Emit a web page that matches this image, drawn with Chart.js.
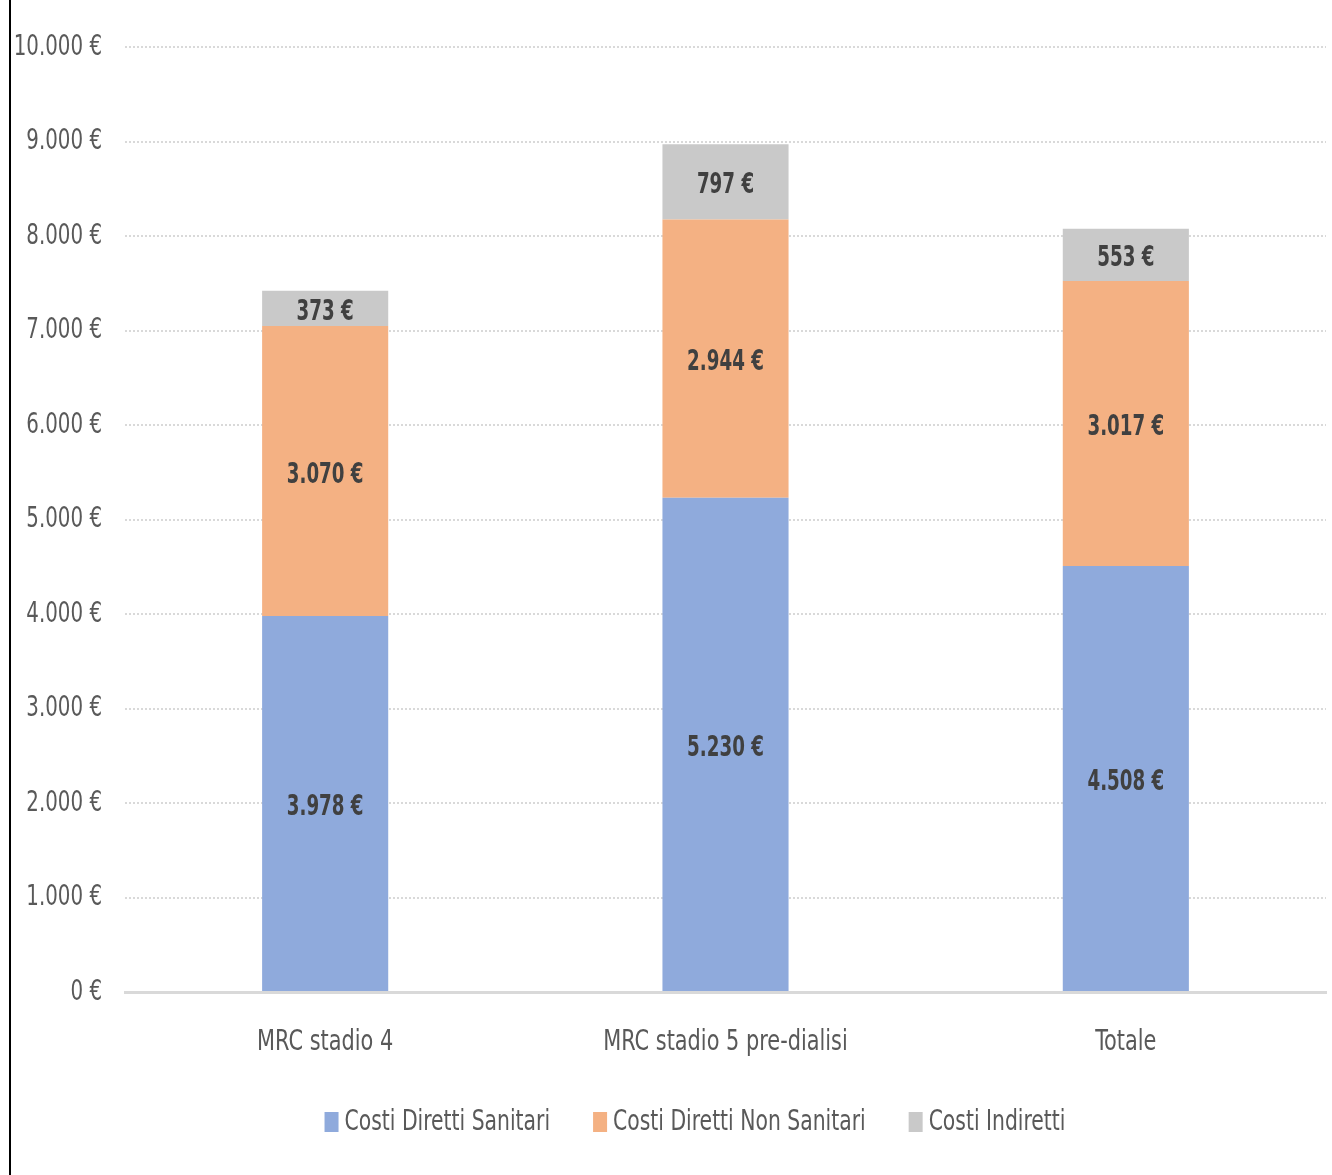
<!DOCTYPE html>
<html>
<head>
<meta charset="utf-8">
<script src="https://cdn.jsdelivr.net/npm/chart.js@4/dist/chart.umd.min.js"></script>
<style>
  html, body { margin: 0; padding: 0; background: #fff; }
  #wrap { position: relative; width: 1332px; height: 1175px; }
  #edge { position: absolute; left: 9px; top: 0; width: 2px; height: 1175px; background: #000; }
</style>
</head>
<body>
<div id="wrap">
  <canvas id="costChart" width="1332" height="1175"></canvas>
  <div id="edge"></div>
</div>
<script>
// categories and series
const categories = ['MRC stadio 4', 'MRC stadio 5 pre-dialisi', 'Totale'];
const sanitari = [3978, 5230, 4508];
const nonSanitari = [3070, 2944, 3017];
const indiretti = [373, 797, 553];
const yTicks = [0, 1000, 2000, 3000, 4000, 5000, 6000, 7000, 8000, 9000, 10000];

const FONT = '"DejaVu Sans Condensed", "DejaVu Sans", sans-serif';

function euro(v) {
  return v.toString().replace(/\B(?=(\d{3})+(?!\d))/g, '.') + ' €';
}

// narrow text: the original uses a compressed face, so squeeze horizontally
function narrowText(ctx, text, x, y, align, sx) {
  ctx.save();
  ctx.textAlign = align;
  ctx.scale(sx, 1);
  ctx.fillText(text, x / sx, y);
  ctx.restore();
}

const textLayer = {
  id: 'textLayer',
  afterDatasetsDraw(chart) {
    const ctx = chart.ctx;
    ctx.save();
    ctx.font = 'bold 29px ' + FONT;
    ctx.fillStyle = '#404040';
    ctx.textBaseline = 'middle';
    chart.data.datasets.forEach((ds, i) => {
      chart.getDatasetMeta(i).data.forEach((bar, j) => {
        narrowText(ctx, euro(ds.data[j]), bar.x, (bar.y + bar.base) / 2 + 4, 'center', 0.7);
      });
    });
    ctx.restore();
  },
  afterDraw(chart) {
    const ctx = chart.ctx;
    const xs = chart.scales.x, ys = chart.scales.y;
    ctx.save();
    ctx.font = '29px ' + FONT;
    ctx.fillStyle = '#595959';
    ctx.textBaseline = 'middle';
    yTicks.forEach(v => {
      narrowText(ctx, euro(v), 102, ys.getPixelForValue(v), 'right', 0.76);
    });
    categories.forEach((c, i) => {
      narrowText(ctx, c, xs.getPixelForValue(i), chart.chartArea.bottom + 50, 'center', 0.8);
    });

    // legend
    const sx = 0.78, box = 14, gapBox = 6, gapItem = 43;
    const items = chart.data.datasets.map(ds => ({
      label: ds.label, color: ds.backgroundColor,
      w: ctx.measureText(ds.label).width * sx
    }));
    const total = items.reduce((s, it) => s + box + gapBox + it.w, 0) + gapItem * (items.length - 1);
    let x = 695 - total / 2;
    const ly = 1122;
    items.forEach(it => {
      ctx.fillStyle = it.color;
      ctx.fillRect(x, ly - 10, box, 20);
      ctx.fillStyle = '#595959';
      narrowText(ctx, it.label, x + box + gapBox, ly, 'left', sx);
      x += box + gapBox + it.w + gapItem;
    });
    ctx.restore();
  }
};

new Chart(document.getElementById('costChart').getContext('2d'), {
  type: 'bar',
  data: {
    labels: categories,
    datasets: [
      { label: 'Costi Diretti Sanitari', data: sanitari, backgroundColor: '#8faadc' },
      { label: 'Costi Diretti Non Sanitari', data: nonSanitari, backgroundColor: '#f4b183' },
      { label: 'Costi Indiretti', data: indiretti, backgroundColor: '#c9c9c9' }
    ]
  },
  options: {
    responsive: false,
    animation: false,
    categoryPercentage: 1,
    barPercentage: 0.315,
    layout: { padding: { top: 47, right: 6, left: 0, bottom: 0 } },
    scales: {
      x: {
        stacked: true,
        grid: { display: false, drawTicks: false },
        border: { display: true, color: '#d9d9d9', width: 3 },
        ticks: { display: false },
        afterFit(scale) { scale.height = 183; }
      },
      y: {
        stacked: true,
        min: 0,
        max: 10000,
        afterBuildTicks(scale) { scale.ticks = yTicks.map(v => ({ value: v })); },
        grid: { color: '#d9d9d9', lineWidth: 2, drawTicks: false },
        border: { display: false, dash: [2, 2] },
        ticks: { display: false },
        afterFit(scale) { scale.width = 125; }
      }
    },
    plugins: {
      legend: { display: false },
      tooltip: { enabled: false }
    }
  },
  plugins: [textLayer]
});
</script>
</body>
</html>
